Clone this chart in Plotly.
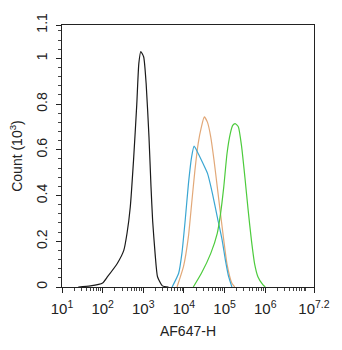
import plotly.graph_objects as go

# log10 fluorescence positions and counts (x10^3)
black_x = [1.40, 1.70, 2.00, 2.12, 2.36, 2.52, 2.60, 2.68, 2.76, 2.84, 2.89, 2.94, 3.01, 3.07, 3.14, 3.19, 3.23, 3.29, 3.35, 3.47, 3.62]
black_y = [0.0, 0.005, 0.018, 0.045, 0.103, 0.16, 0.235, 0.35, 0.555, 0.80, 0.977, 1.03, 1.006, 0.89, 0.656, 0.438, 0.29, 0.147, 0.045, 0.005, 0.0]

orange_x = [3.83, 3.99, 4.11, 4.19, 4.27, 4.35, 4.43, 4.50, 4.58, 4.66, 4.74, 4.82, 4.90, 4.98, 5.06, 5.18, 5.25]
orange_y = [0.0, 0.09, 0.22, 0.365, 0.51, 0.627, 0.70, 0.744, 0.72, 0.656, 0.555, 0.438, 0.32, 0.205, 0.10, 0.016, 0.0]

blue_x = [3.71, 3.87, 3.95, 4.03, 4.11, 4.19, 4.25, 4.35, 4.47, 4.58, 4.70, 4.82, 4.94, 5.02, 5.10, 5.18]
blue_y = [0.0, 0.06, 0.147, 0.29, 0.45, 0.57, 0.616, 0.584, 0.54, 0.497, 0.41, 0.307, 0.205, 0.118, 0.045, 0.0]

green_x = [4.23, 4.43, 4.66, 4.82, 4.90, 4.98, 5.06, 5.14, 5.20, 5.26, 5.34, 5.42, 5.50, 5.58, 5.66, 5.74, 5.82, 5.94, 6.00]
green_y = [0.0, 0.06, 0.147, 0.235, 0.32, 0.438, 0.584, 0.671, 0.707, 0.715, 0.70, 0.613, 0.48, 0.336, 0.205, 0.10, 0.045, 0.01, 0.0]

x_tick_exp = [1, 2, 3, 4, 5, 6, 7.2]
x_tick_text = ["10<sup>1</sup>", "10<sup>2</sup>", "10<sup>3</sup>", "10<sup>4</sup>",
               "10<sup>5</sup>", "10<sup>6</sup>", "10<sup>7.2</sup>"]
y_tick_vals = [0, 0.2, 0.4, 0.6, 0.8, 1.0, 1.146]
y_tick_text = ["0", "0.2", "0.4", "0.6", "0.8", "1", "1.1"]

series = [
    (black_x, black_y, "#1a1a1a"),
    (orange_x, orange_y, "#e2a878"),
    (blue_x, blue_y, "#3aa6d2"),
    (green_x, green_y, "#4ccb3c"),
]

fig = go.Figure()
for xs, ys, col in series:
    fig.add_trace(go.Scatter(
        x=[10 ** v for v in xs], y=ys, mode="lines",
        line=dict(color=col, width=1.2, shape="spline", smoothing=0.5),
        showlegend=False, hoverinfo="skip"))

font = dict(family="Liberation Sans, Arial, sans-serif", size=14, color="#222")
fig.update_layout(
    width=342, height=350,
    margin=dict(l=62, r=16, t=25, b=63),
    paper_bgcolor="white", plot_bgcolor="white",
    font=font,
)
fig.update_xaxes(
    type="log", range=[1, 7.2],
    tickvals=[10 ** v for v in x_tick_exp], ticktext=x_tick_text,
    ticks="outside", ticklen=5, tickcolor="#222", tickwidth=1,
    showline=True, linecolor="#222", linewidth=1, mirror=True,
    showgrid=False, zeroline=False,
    minor=dict(ticks="outside", ticklen=3, tickcolor="#444", dtick="D1", showgrid=False),
    title=dict(text="AF647-H", font=dict(size=14), standoff=10),
    tickfont=dict(size=15),
    ticklabelstandoff=3,
)
fig.update_yaxes(
    range=[0, 1.146],
    tickvals=y_tick_vals, ticktext=y_tick_text, tickangle=-90,
    ticks="outside", ticklen=5, tickcolor="#222", tickwidth=1,
    showline=True, linecolor="#222", linewidth=1, mirror=True,
    showgrid=False, zeroline=False,
    minor=dict(ticks="outside", ticklen=3, tickcolor="#444", tickvals=[i * 0.04 for i in range(1, 29) if i % 5 != 0], showgrid=False),
    title=dict(text="Count (10<sup>3</sup>)", font=dict(size=14), standoff=8),
    tickfont=dict(size=14),
    ticklabelstandoff=3,
)

fig.write_html("out.html")
